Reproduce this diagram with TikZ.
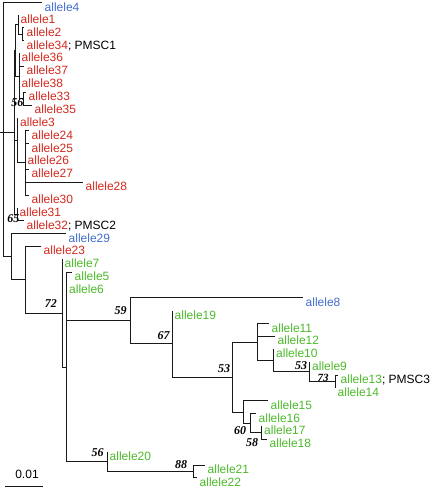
\documentclass[tikz,border=0pt]{standalone}
\usepackage{fontspec}
\setmainfont{Liberation Sans}
\newfontfamily\bsfont{Liberation Serif}
\definecolor{tred}{RGB}{210,40,30}
\definecolor{tblue}{RGB}{65,110,205}
\definecolor{tgreen}{RGB}{75,185,40}
\begin{document}
\begin{tikzpicture}[x=1pt,y=-1pt,
  br/.style={draw=black!90,line width=0.8pt},
  lab/.style={anchor=base west,inner sep=0pt,font=\fontsize{12}{14}\selectfont},
  bs/.style={anchor=center,inner sep=0pt,font=\fontsize{12}{14}\selectfont\bsfont\bfseries\itshape}]
\useasboundingbox (0,0) rectangle (432,488);
% tips
\coordinate (t4) at (42,2.5);
\coordinate (t1) at (18,14.9);
\coordinate (t2) at (24,27.7);
\coordinate (t34) at (24,40.6);
\coordinate (t36) at (19,53.4);
\coordinate (t37) at (24,66.3);
\coordinate (t38) at (19,79.2);
\coordinate (t33) at (26,92);
\coordinate (t35) at (32,104.9);
\coordinate (t3) at (17.5,117.7);
\coordinate (t24) at (29,130.6);
\coordinate (t25) at (29,143.5);
\coordinate (t26) at (25,156.3);
\coordinate (t27) at (29,169.2);
\coordinate (t28) at (83,182);
\coordinate (t30) at (29,194.9);
\coordinate (t31) at (17,207.8);
\coordinate (t32) at (24,220.6);
\coordinate (t29) at (66,233.5);
\coordinate (t23) at (41,246.3);
\coordinate (t7) at (62,259.2);
\coordinate (t5) at (72,272.1);
\coordinate (t6) at (66.5,284.9);
\coordinate (t8) at (303,297.8);
\coordinate (t19) at (172,310.6);
\coordinate (t11) at (269,323.5);
\coordinate (t12) at (275,336.4);
\coordinate (t10) at (273.5,349.2);
\coordinate (t9) at (309.5,362.1);
\coordinate (t13) at (338,374.9);
\coordinate (t14) at (335,387.8);
\coordinate (t15) at (268,400.7);
\coordinate (t16) at (256,413.5);
\coordinate (t17) at (261.5,426.4);
\coordinate (t18) at (267,439.2);
\coordinate (t20) at (107,452.1);
\coordinate (t21) at (205,465);
\coordinate (t22) at (197,477.8);
% internal nodes
\coordinate (nA2) at (22,34.2);
\coordinate (nA) at (18,24.5);
\coordinate (n56u) at (23,98.5);
\coordinate (nB) at (19,76);
\coordinate (nAB) at (15.5,50.2);
\coordinate (nD) at (25,162.7);
\coordinate (nC) at (17.5,140.2);
\coordinate (n65) at (17,214.2);
\coordinate (nR) at (14,132.2);
\coordinate (root) at (3,132.2);
\coordinate (stub) at (0,132.2);
\coordinate (n29) at (11,256.6);
\coordinate (n23) at (25,279.7);
\coordinate (n72) at (62,313.1);
\coordinate (nX) at (66.5,367);
\coordinate (n59) at (130,320.8);
\coordinate (n67) at (172,343.8);
\coordinate (n53) at (232,377);
\coordinate (nQ) at (257,342);
\coordinate (n10) at (273.5,360.5);
\coordinate (n53b) at (309.5,371.7);
\coordinate (n73) at (335,381.4);
\coordinate (n15) at (243,412);
\coordinate (n60) at (250,423.2);
\coordinate (n58) at (261.5,432.8);
\coordinate (n56l) at (107,461.8);
\coordinate (n88) at (193,471.4);
% branches
\draw[br] (stub) -- (root);
\foreach \p/\c in {root/t4,root/nR,root/n29,
  nR/nAB,nR/nC,nR/n65,nAB/nA,nAB/nB,nA/t1,nA/nA2,nA2/t2,nA2/t34,
  nB/t36,nB/t37,nB/t38,nB/n56u,n56u/t33,n56u/t35,
  nC/t3,nC/nD,nD/t24,nD/t25,nD/t26,nD/t27,nD/t28,nD/t30,
  n65/t31,n65/t32,n29/t29,n29/n23,n23/t23,n23/n72,n72/t7,n72/nX,
  nX/t5,nX/t6,nX/n59,nX/n56l,n59/t8,n59/n67,n67/t19,n67/n53,
  n53/nQ,n53/n15,nQ/t11,nQ/t12,nQ/n10,n10/t10,n10/n53b,n53b/t9,n53b/n73,
  n73/t13,n73/t14,n15/t15,n15/n60,n60/t16,n60/n58,n58/t17,n58/t18,
  n56l/t20,n56l/n88,n88/t21,n88/t22}
  \draw[br] (\p) |- (\c);
% tip labels
\foreach \t/\col in {4/tblue,29/tblue,8/tblue,
  1/tred,2/tred,36/tred,37/tred,38/tred,33/tred,35/tred,3/tred,24/tred,25/tred,
  26/tred,27/tred,28/tred,30/tred,31/tred,23/tred,
  7/tgreen,5/tgreen,6/tgreen,19/tgreen,11/tgreen,12/tgreen,10/tgreen,9/tgreen,
  14/tgreen,15/tgreen,16/tgreen,17/tgreen,18/tgreen,20/tgreen,21/tgreen,22/tgreen}
  \node[lab,text=\col] (L\t) at ([shift={(2.5,8.5)}]t\t) {allele\t};
\node[lab] (L34) at ([shift={(2.5,8.5)}]t34) {\textcolor{tred}{allele34}; PMSC1};
\node[lab] (L32) at ([shift={(2.5,8.5)}]t32) {\textcolor{tred}{allele32}; PMSC2};
\node[lab] (L13) at ([shift={(2.5,8.5)}]t13) {\textcolor{tgreen}{allele13}; PMSC3};
% bootstrap values
\node[bs] (b56u) at (17.5,103) {56};
\node[bs] (b65) at (13.5,219) {65};
\node[bs] (b72) at (51,304) {72};
\node[bs] (b59) at (120.5,311) {59};
\node[bs] (b67) at (163.5,336) {67};
\node[bs] (b53) at (224,369) {53};
\node[bs] (b53b) at (301,366) {53};
\node[bs,font=\fontsize{11}{13}\selectfont\bsfont\bfseries\itshape] (b73) at (323,377.6) {73};
\node[bs] (b60) at (240,431) {60};
\node[bs] (b58) at (252,443) {58};
\node[bs] (b56l) at (97.5,453) {56};
\node[bs] (b88) at (181,465) {88};
% scale bar
\coordinate (sb1) at (5,486);
\coordinate (sb2) at (43,486);
\draw[br] (sb1) -- (sb2);
\node[anchor=base,inner sep=0pt,font=\fontsize{12}{14}\selectfont] (sbl) at (27,478) {0.01};
\end{tikzpicture}
\end{document}
